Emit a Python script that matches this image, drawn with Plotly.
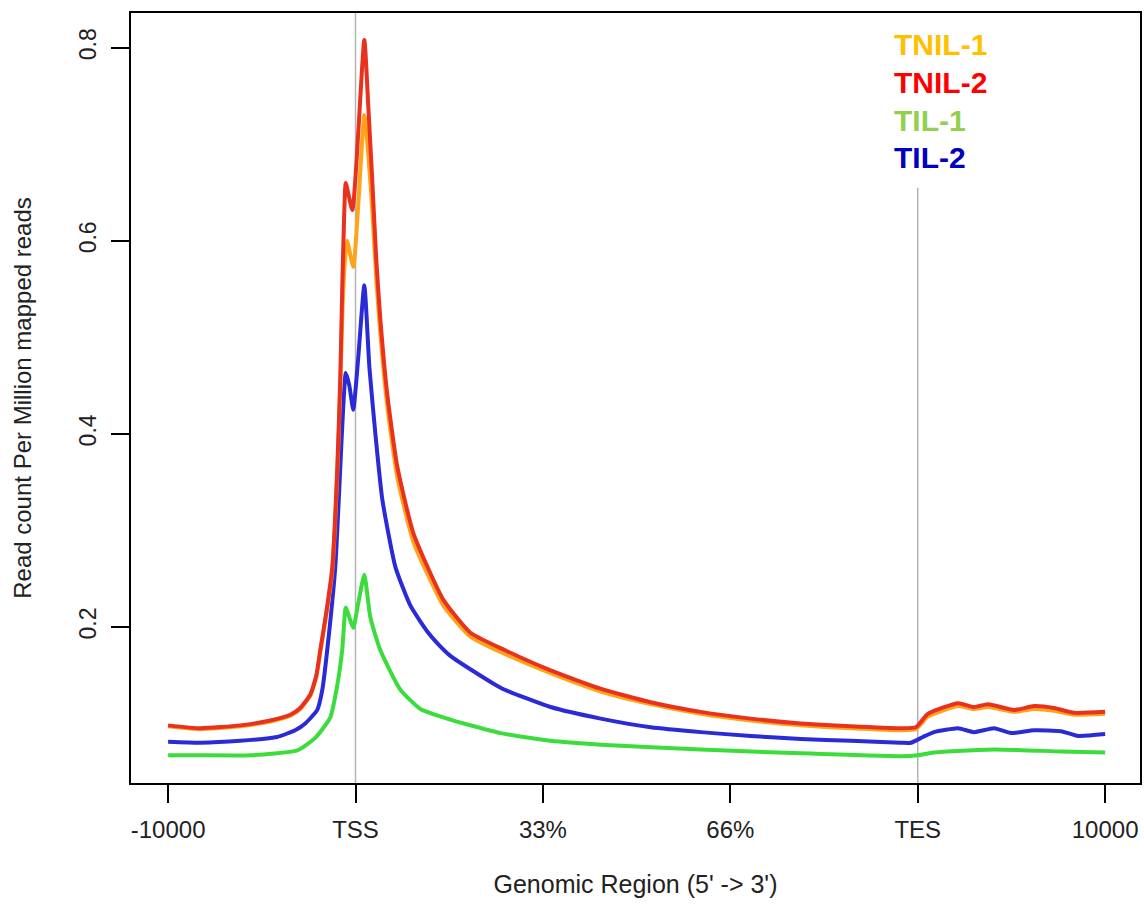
import plotly.graph_objects as go

# Positions in genomic-region units: -10000 -> 0, TSS -> 100, 33% -> 200, 66% -> 300, TES -> 400, 10000 -> 500
tick_pos = [0, 100, 200, 300, 400, 500]
tick_text = ["-10000", "TSS", "33%", "66%", "TES", "10000"]

tnil2_x = [0, 17.1, 38.5, 54.5, 65.2, 70.5, 75.9, 79.1, 81.2, 84.4, 87.6, 90.3, 91.9, 92.9, 94.0, 94.8, 98.3,
           104.7, 106.8, 109.0, 111.1, 113.2, 117.0, 122.3, 130.9, 146.9, 161.3, 177.4, 204.1, 230.8, 257.5,
           284.2, 310.9, 337.6, 364.3, 391.0, 399.0, 405.4, 421.5, 430.0, 437.5, 451.4, 462.1, 472.8, 483.4, 500]
tnil2_y = [0.098, 0.095, 0.098, 0.103, 0.109, 0.116, 0.130, 0.150, 0.176, 0.215, 0.262, 0.366, 0.46, 0.55, 0.63,
           0.66, 0.632, 0.808, 0.74, 0.66, 0.58, 0.52, 0.44, 0.366, 0.297, 0.228, 0.194, 0.178, 0.155, 0.136,
           0.122, 0.112, 0.105, 0.100, 0.097, 0.095, 0.096, 0.110, 0.121, 0.117, 0.120, 0.114, 0.118, 0.116,
           0.111, 0.112]

tnil1_x = [0, 17.1, 38.5, 54.5, 65.2, 70.5, 75.9, 79.1, 81.2, 84.4, 87.6, 90.3, 91.9, 92.9, 94.0, 95.5, 98.8,
           104.7, 106.8, 109.0, 111.1, 113.2, 117.0, 122.3, 130.9, 146.9, 161.3, 177.4, 204.1, 230.8, 257.5,
           284.2, 310.9, 337.6, 364.3, 391.0, 399.0, 405.4, 421.5, 430.0, 437.5, 451.4, 462.1, 472.8, 483.4, 500]
tnil1_y = [0.097, 0.094, 0.097, 0.102, 0.108, 0.115, 0.129, 0.148, 0.174, 0.212, 0.258, 0.36, 0.45, 0.52, 0.57,
           0.60, 0.573, 0.73, 0.69, 0.63, 0.56, 0.505, 0.428, 0.355, 0.288, 0.222, 0.190, 0.174, 0.152, 0.133,
           0.120, 0.110, 0.103, 0.098, 0.095, 0.093, 0.094, 0.107, 0.118, 0.115, 0.117, 0.112, 0.115, 0.113,
           0.109, 0.110]

til2_x = [0, 17.1, 38.5, 58.2, 67.8, 73.2, 79.6, 82.3, 84.9, 89.2, 91.9, 93.5, 94.8, 96.7, 98.8, 101.5, 104.7,
          107.4, 110.6, 114.3, 121.3, 129.3, 138.4, 143.7, 150.6, 177.4, 204.1, 230.8, 257.5, 284.2, 310.9,
          337.6, 364.3, 391.0, 396.4, 402.8, 408.7, 421.5, 430.0, 440.7, 449.8, 462.1, 476.5, 485.6, 500]
til2_y = [0.081, 0.080, 0.082, 0.086, 0.093, 0.100, 0.114, 0.135, 0.176, 0.262, 0.366, 0.43, 0.463, 0.45, 0.425,
          0.48, 0.554, 0.469, 0.40, 0.332, 0.262, 0.222, 0.195, 0.183, 0.170, 0.137, 0.117, 0.105, 0.096, 0.091,
          0.087, 0.084, 0.082, 0.080, 0.080, 0.086, 0.091, 0.095, 0.091, 0.095, 0.090, 0.093, 0.092, 0.087, 0.089]

til1_x = [0, 17.1, 43.8, 68.9, 78.5, 86.5, 90.3, 92.9, 94.8, 96.7, 98.8, 101.5, 104.7, 107.9, 113.2, 123.9,
          134.6, 150.6, 177.4, 204.1, 230.8, 284.2, 337.6, 391.0, 400.1, 408.7, 440.7, 476.5, 500]
til1_y = [0.067, 0.067, 0.067, 0.072, 0.085, 0.106, 0.14, 0.176, 0.22, 0.21, 0.199, 0.225, 0.254, 0.21, 0.176,
          0.135, 0.115, 0.104, 0.090, 0.082, 0.078, 0.073, 0.069, 0.066, 0.067, 0.070, 0.073, 0.071, 0.070]

series = [
    ("TIL-1", til1_x, til1_y, "#3cdc3c"),
    ("TIL-2", til2_x, til2_y, "#2a2ad6"),
    ("TNIL-1", tnil1_x, tnil1_y, "#ffa31a"),
    ("TNIL-2", tnil2_x, tnil2_y, "#e8321e"),
]

legend_labels = ["TNIL-1", "TNIL-2", "TIL-1", "TIL-2"]
legend_colors = ["#ffc000", "#ff0000", "#92d050", "#0000c0"]
legend_y = [0.803, 0.764, 0.725, 0.686]

fig = go.Figure()
for name, xs, ys, col in series:
    fig.add_trace(go.Scatter(x=xs, y=ys, mode="lines", name=name,
                             line=dict(color=col, width=4, shape="spline", smoothing=0.5),
                             showlegend=False))

# vertical reference lines at TSS and TES
fig.add_shape(type="line", x0=100, x1=100, y0=0, y1=1, xref="x", yref="paper",
              line=dict(color="#b4b4b4", width=1.5), layer="below")
fig.add_shape(type="line", x0=400, x1=400, y0=0.0383, y1=0.655, xref="x", yref="y",
              line=dict(color="#b4b4b4", width=1.5), layer="below")

for lab, col, yv in zip(legend_labels, legend_colors, legend_y):
    fig.add_annotation(x=386.5, y=yv, xref="x", yref="y", text="<b>" + lab + "</b>",
                       showarrow=False, xanchor="left", yanchor="middle",
                       font=dict(family="Liberation Sans, Arial", size=30, color=col))

fig.update_layout(
    width=1144, height=909,
    margin=dict(l=131, r=2, t=13, b=126),
    plot_bgcolor="white", paper_bgcolor="white",
    font=dict(family="Liberation Sans, Arial", color="#222222"),
    xaxis=dict(range=[-19.8, 518.6], tickvals=tick_pos, ticktext=tick_text,
               showgrid=False, zeroline=False, showline=True, mirror=True,
               linecolor="black", linewidth=2, ticks="outside", ticklen=18,
               tickwidth=2, tickcolor="black", tickfont=dict(size=24),
               ticklabelstandoff=6,
               title=dict(text="Genomic Region (5' -> 3')", font=dict(size=25), standoff=34)),
    yaxis=dict(range=[0.0383, 0.836], tickvals=[0.2, 0.4, 0.6, 0.8],
               ticktext=["0.2", "0.4", "0.6", "0.8"], tickangle=-90,
               showgrid=False, zeroline=False, showline=True, mirror=True,
               linecolor="black", linewidth=2, ticks="outside", ticklen=18,
               tickwidth=2, tickcolor="black", tickfont=dict(size=23),
               ticklabelstandoff=6,
               title=dict(text="Read count Per Million mapped reads", font=dict(size=24), standoff=36)),
)

fig.write_html("out.html")
